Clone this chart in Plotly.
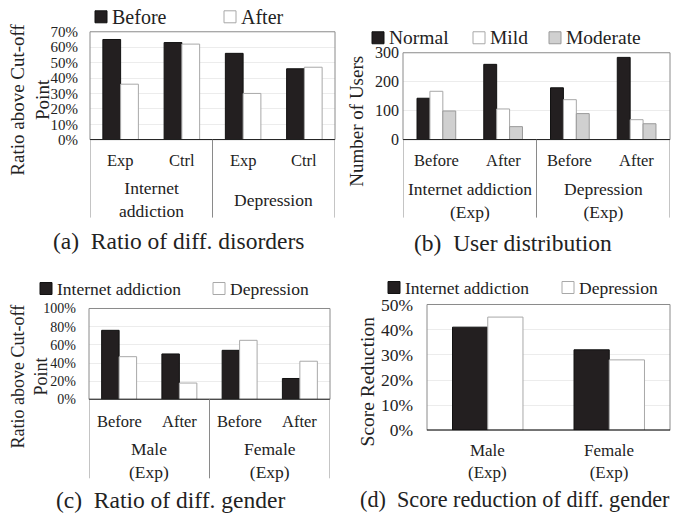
import plotly.graph_objects as go

# ---------------- data ----------------
# (a) ratio above cut-off point for each disorder / group
a_groups = ["Internet<br>addiction", "Depression"]
a_cats = ["Exp", "Ctrl", "Exp", "Ctrl"]
a_before = [65, 63, 56, 46]
a_after = [36, 62, 30, 47]
a_ticks = [0, 10, 20, 30, 40, 50, 60, 70]

# (b) user distribution by severity
b_groups = ["Internet addiction<br>(Exp)", "Depression<br>(Exp)"]
b_cats = ["Before", "After", "Before", "After"]
b_normal = [143, 260, 179, 284]
b_mild = [167, 106, 138, 69]
b_moderate = [99, 45, 90, 55]
b_ticks = [0, 100, 200, 300]

# (c) ratio above cut-off point by gender
c_groups = ["Male<br>(Exp)", "Female<br>(Exp)"]
c_cats = ["Before", "After", "Before", "After"]
c_internet = [76, 50, 54, 23]
c_depression = [47, 18, 65, 42]
c_ticks = [0, 20, 40, 60, 80, 100]

# (d) score reduction by gender
d_cats = ["Male<br>(Exp)", "Female<br>(Exp)"]
d_internet = [41, 32]
d_depression = [45, 28]
d_ticks = [0, 10, 20, 30, 40, 50]

# ---------------- styling ----------------
W, H = 678, 513
Y_OFF, Y_SCALE = 9.2, 0.962   # vertical placement mapping
FONT = "Liberation Serif"
BLACK = "#231f20"
WHITE = "#ffffff"
GREY = "#d0d0d0"
EDGE_BLACK = "#111111"
EDGE_WHITE = "#a8a8a8"
EDGE_GREY = "#9a9a9a"
FRAME = "#8a8a8a"
GRID = "#ececec"
TXT = "#222222"


def fx(px):
    return px / W


def fy(py):
    return 1 - ((py - Y_OFF) / Y_SCALE) / H


def font(size):
    return dict(family=FONT, size=size, color=TXT)


fig = go.Figure()

panels = {
    # name: (x-domain px, y-domain px top/bottom)
    "a": ((90, 335), (31, 139)),
    "b": ((403, 670), (52, 139)),
    "c": ((89, 330), (308, 399)),
    "d": ((427, 670), (304, 430)),
}
axis_ids = {"a": "", "b": "2", "c": "3", "d": "4"}


def add_bar(panel, y, fill, edge, name):
    k = axis_ids[panel]
    fig.add_trace(go.Bar(
        x=list(range(len(y))), y=y, name=name,
        marker=dict(color=fill, line=dict(color=edge, width=1)),
        xaxis="x" + k, yaxis="y" + k, showlegend=False,
        offsetgroup=name + panel,
    ))


add_bar("a", a_before, BLACK, EDGE_BLACK, "Before")
add_bar("a", a_after, WHITE, EDGE_WHITE, "After")
add_bar("b", b_normal, BLACK, EDGE_BLACK, "Normal")
add_bar("b", b_mild, WHITE, EDGE_WHITE, "Mild")
add_bar("b", b_moderate, GREY, EDGE_GREY, "Moderate")
add_bar("c", c_internet, BLACK, EDGE_BLACK, "Internet addiction")
add_bar("c", c_depression, WHITE, EDGE_WHITE, "Depression")
add_bar("d", d_internet, BLACK, EDGE_BLACK, "Internet addiction")
add_bar("d", d_depression, WHITE, EDGE_WHITE, "Depression")

layout = dict(
    width=W, height=H, margin=dict(l=0, r=0, t=0, b=0),
    paper_bgcolor="white", plot_bgcolor="white",
    barmode="group", bargroupgap=0, bargap=0.42,
    font=font(14),
)

# y range, tick values, category count, tick font size, tick standoff
axes_cfg = {
    "a": (70, a_ticks, 4, 15, 11),
    "b": (300, b_ticks, 4, 16, 3),
    "c": (100, c_ticks, 4, 14, 12),
    "d": (50, d_ticks, 2, 17.5, 13),
}

for p, ((x0, x1), (yt, yb)) in panels.items():
    k = axis_ids[p]
    hi, ticks, n, tsize, standoff = axes_cfg[p]
    pct = p != "b"
    layout["xaxis" + k] = dict(
        domain=[fx(x0), fx(x1)], range=[-0.5, n - 0.5], anchor="y" + k,
        showticklabels=False, showgrid=False, zeroline=False, showline=False,
    )
    layout["yaxis" + k] = dict(
        domain=[fy(yb), fy(yt)], range=[0, hi], anchor="x" + k,
        tickvals=ticks, ticktext=[f"{t}%" if pct else str(t) for t in ticks],
        showgrid=True, gridcolor=GRID, gridwidth=1, zeroline=False,
        showline=False, ticks="", ticklabelstandoff=standoff,
        tickfont=font(tsize),
    )

fig.update_layout(**layout)

shapes = []
annotations = []

for p in panels:
    k = axis_ids[p]
    # frame around the plotting area
    shapes.append(dict(type="rect", xref=f"x{k} domain", yref=f"y{k} domain",
                       x0=0, x1=1, y0=0, y1=1, line=dict(color=FRAME, width=1),
                       layer="above"))
    # black baseline at zero
    shapes.append(dict(type="line", xref=f"x{k} domain", yref="y" + k,
                       x0=0, x1=1, y0=0, y1=0, line=dict(color="#000", width=1.5),
                       layer="above"))


def group_axis(panel, cats, groups, cat_y, grp_y, div_bottom, size_c, size_g):
    k = axis_ids[panel]
    base = panels[panel][1][1]
    for i, c in enumerate(cats):
        annotations.append(dict(xref="x" + k, yref="paper", x=i, y=fy(cat_y),
                                text=c, showarrow=False, yanchor="middle",
                                font=font(size_c)))
    for g, name in enumerate(groups):
        annotations.append(dict(xref="x" + k, yref="paper", x=2 * g + 0.5,
                                y=fy(grp_y), text=name, showarrow=False,
                                yanchor="middle", font=font(size_g)))
    for xv in [-0.5, 1.5, 3.5]:
        shapes.append(dict(type="line", xref="x" + k, yref="paper",
                           x0=xv, x1=xv, y0=fy(base), y1=fy(div_bottom),
                           line=dict(color=FRAME, width=1)))


group_axis("a", a_cats, a_groups, 160, 199, 217, 16.5, 17.5)
group_axis("b", b_cats, b_groups, 160, 200, 217, 16.5, 17.5)
group_axis("c", c_cats, c_groups, 421, 460, 478, 16.5, 17.5)

# (d) plain category labels
for i, c in enumerate(d_cats):
    annotations.append(dict(xref="x4", yref="paper", x=i, y=fy(461), text=c,
                            showarrow=False, yanchor="middle", font=font(17)))


def legend_entry(x_px, y_px, text, fill, edge, size, box=12):
    shapes.append(dict(type="rect", xref="paper", yref="paper",
                       x0=fx(x_px), x1=fx(x_px + box),
                       y0=fy(y_px + box / 2), y1=fy(y_px - box / 2),
                       fillcolor=fill, line=dict(color=edge, width=1)))
    annotations.append(dict(xref="paper", yref="paper", x=fx(x_px + box + 3),
                            y=fy(y_px), text=text, showarrow=False,
                            xanchor="left", yanchor="middle", font=font(size)))


legend_entry(95, 16, "Before", BLACK, EDGE_BLACK, 20)
legend_entry(224, 16, "After", WHITE, EDGE_WHITE, 20)
legend_entry(372, 37, "Normal", BLACK, EDGE_BLACK, 19.5)
legend_entry(473, 37, "Mild", WHITE, EDGE_WHITE, 19.5)
legend_entry(549, 37, "Moderate", GREY, EDGE_GREY, 19.5)
legend_entry(40, 288, "Internet addiction", BLACK, EDGE_BLACK, 17.5)
legend_entry(213, 288, "Depression", WHITE, EDGE_WHITE, 17.5)
legend_entry(388, 287, "Internet addiction", BLACK, EDGE_BLACK, 17.5)
legend_entry(562, 287, "Depression", WHITE, EDGE_WHITE, 17.5)


def rotated_title(x_px, y_px, text, size):
    annotations.append(dict(xref="paper", yref="paper", x=fx(x_px), y=fy(y_px),
                            text=text, showarrow=False, textangle=-90,
                            xanchor="center", yanchor="middle", font=font(size)))


rotated_title(30, 99, "Ratio above Cut-off<br>Point", 19)
rotated_title(357, 121, "Number of Users", 19)
rotated_title(29, 376, "Ratio above Cut-off<br>Point", 18)
rotated_title(367, 381, "Score Reduction", 19.5)


def caption(x_px, y_px, text, size=23.5):
    annotations.append(dict(xref="paper", yref="paper", x=fx(x_px), y=fy(y_px),
                            text=text, showarrow=False, xanchor="center",
                            yanchor="middle", font=font(size)))


caption(178, 240, "(a)  Ratio of diff. disorders")
caption(513, 242, "(b)  User distribution")
caption(170, 499.5, "(c)  Ratio of diff. gender")
caption(515, 499.5, "(d)  Score reduction of diff. gender", 22.2)

fig.update_layout(shapes=shapes, annotations=annotations)
fig.write_html("out.html")
